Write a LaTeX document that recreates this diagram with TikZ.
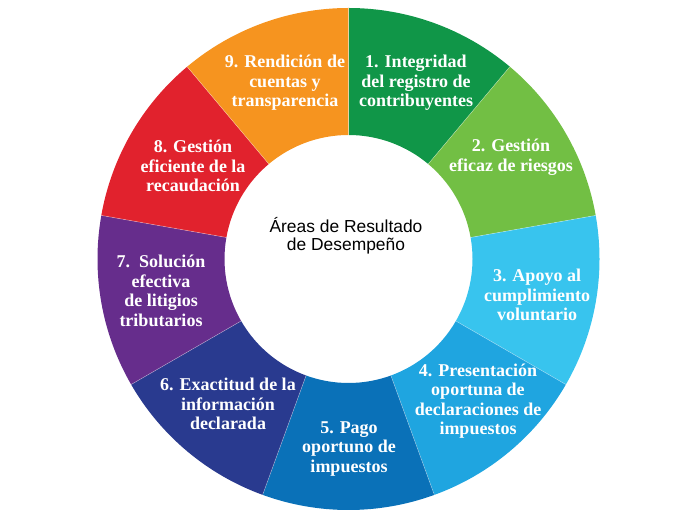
\documentclass[tikz,border=0pt]{standalone}
\usetikzlibrary{calc}
\usepackage{fontspec}
\setmainfont{Liberation Serif}
\newfontfamily\centerfont{Liberation Sans}
\definecolor{cA}{HTML}{109648}
\definecolor{cB}{HTML}{72BF44}
\definecolor{cC}{HTML}{38C4EE}
\definecolor{cD}{HTML}{1FA5E0}
\definecolor{cE}{HTML}{0A71B8}
\definecolor{cF}{HTML}{293A8F}
\definecolor{cG}{HTML}{662D8C}
\definecolor{cH}{HTML}{E1222D}
\definecolor{cI}{HTML}{F6941F}
\tikzset{
  segtext/.style={text=white, align=center, inner sep=0pt,
    font=\bfseries\fontsize{18}{19.5}\selectfont},
  midtext/.style={text=black, align=center, inner sep=0pt,
    font=\centerfont\fontsize{17.4}{18}\selectfont},
  sepline/.style={draw=white, draw opacity=0.45, line width=0.5pt}
}
\begin{document}
\begin{tikzpicture}[x=1pt,y=1pt]
\useasboundingbox (0,0) rectangle (674,524);
\coordinate (c) at (348.5,265);
\def\Ro{251}
\def\Ri{124}
\foreach \i/\col in {0/cA,1/cB,2/cC,3/cD,4/cE,5/cF,6/cG,7/cH,8/cI}{
  \pgfmathsetmacro{\a}{90-40*\i}
  \pgfmathsetmacro{\b}{50-40*\i}
  \fill[\col] ($(c)+(\a:\Ro)$) arc[start angle=\a, end angle=\b, radius=\Ro]
    -- ($(c)+(\b:\Ri)$) arc[start angle=\b, end angle=\a, radius=\Ri] -- cycle;
}
\foreach \i in {0,...,8}{
  \pgfmathsetmacro{\a}{90-40*\i}
  \draw[sepline] ($(c)+(\a:\Ri)$) -- ($(c)+(\a:\Ro)$);
}
\node[segtext] (t1) at (416,441) {1. Integridad\\del registro de\\contribuyentes};
\node[segtext] (t2) at (511,367) {2. Gestión\\eficaz de riesgos};
\node[segtext] (t3) at (537,229) {3. Apoyo al\\cumplimiento\\voluntario};
\node[segtext] (t4) at (478,123) {4. Presentación\\oportuna de\\declaraciones de\\impuestos};
\node[segtext] (t5) at (349,75) {5. Pago\\oportuno de\\impuestos};
\node[segtext] (t6) at (228,120) {6. Exactitud de la\\información\\declarada};
\node[segtext] (t7) at (161,233) {7.\ \ Solución\\efectiva\\de litigios\\tributarios};
\node[segtext] (t8) at (193,358) {8. Gestión\\eficiente de la\\recaudación};
\node[segtext] (t9) at (285,441) {9. Rendición de\\cuentas y\\transparencia};
\node[midtext] (m) at (346,288) {Áreas de Resultado\\de Desempeño};
\end{tikzpicture}
\end{document}
